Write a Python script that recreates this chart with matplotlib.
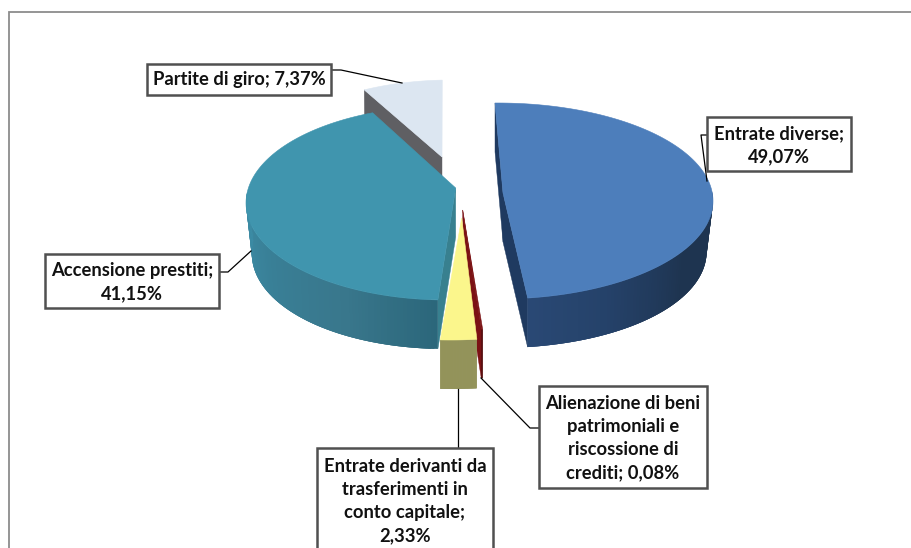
import numpy as np
import matplotlib
matplotlib.use("Agg")
import matplotlib.pyplot as plt
from matplotlib.patches import Rectangle

plt.rcParams['font.family'] = ['Lato', 'DejaVu Sans']

categories = ["Entrate diverse", "Alienazione di beni patrimoniali e riscossione di crediti",
              "Entrate derivanti da trasferimenti in conto capitale", "Accensione prestiti", "Partite di giro"]
values = [49.07, 0.08, 2.33, 41.15, 7.37]
value_labels = ["49,07%", "0,08%", "2,33%", "41,15%", "7,37%"]
label_texts = ["Entrate diverse;\n49,07%",
               "Alienazione di beni\npatrimoniali e\nriscossione di\ncrediti; 0,08%",
               "Entrate derivanti da\ntrasferimenti in\nconto capitale;\n2,33%",
               "Accensione prestiti;\n41,15%",
               "Partite di giro; 7,37%"]
START_ANGLE = -3.0
DEPTH = 49

# geometry per slice (pixel space of the view): ellipse centre/axes, apex, rim warp
views = [
    dict(c=(498, 201), a=215, b=98, apex=(503, 193), warp=(2.2, -1.6), face="#4D7EBB",
         cut="#1F3A60", front=["#2B4B78", "#25426A", "#1E3450", "#1E3450"], cuts=("start", "end")),
    dict(c=(455, 200), a=250, b=130, apex=(462.7, 210), warp=(0, 0), face="#7B1214",
         cut="#7B1214", front=["#5E0E10", "#5E0E10"], cuts=("end",)),
    dict(c=(450.5, 210), a=250, b=130, apex=(461.7, 218), warp=(0, 0), face="#FBF68C",
         cut="#B5B36A", front=["#93935A", "#9C9C62"], cuts=()),
    dict(c=(446, 203), a=200, b=97, apex=(455.7, 188), warp=(0, 8), face="#4095AE",
         cut="#38808F", front=["#2A6579", "#39778C", "#397F96", "#3C8BA4"], cuts=("start",)),
    dict(c=(451.5, 156), a=177, b=76, apex=(442, 157), warp=(0, 0), face="#DCE6F1",
         cut="#5F5F63", front=["#5F5F63", "#5F5F63"], cuts=("start",)),
]
draw_order = [4, 3, 1, 2, 0]

boxes = {0: (707, 117, 851, 171), 1: (539, 386, 707, 488), 2: (317, 448, 493, 560),
         3: (45, 254, 219, 308), 4: (147, 64, 331, 95)}
text_y = {0: 145, 1: 438, 2: 501, 3: 282, 4: 80}
leaders = {0: ([707, 701, 707], [135, 135, 181]), 1: ([539, 530, 481], [428, 428, 378]),
           2: ([458, 458], [448, 389]), 3: ([219, 228, 251], [272, 272, 251]),
           4: ([331, 341, 402], [70, 70, 83])}

fig = plt.figure(figsize=(9.12, 5.48), dpi=100)
ax = fig.add_axes([0, 0, 1, 1])
ax.set_xlim(0, 912)
ax.set_ylim(548, 0)
ax.axis("off")

ax.plot([9.5, 9.5, 912], [548, 12, 12], color="#8C8C8C", lw=1.3, solid_joinstyle="miter")

edges = START_ANGLE + np.concatenate([[0], np.cumsum(values)]) / sum(values) * 360


def rim(v, t, scale=1.0, dy=0.0):
    r = np.radians(t)
    return v["c"][0] + scale * v["a"] * np.sin(r), v["c"][1] - v["b"] * np.cos(r) + dy


def lerp_color(cols, f):
    rgb = np.array([matplotlib.colors.to_rgb(c) for c in cols])
    p = f * (len(cols) - 1)
    i = min(int(p), len(cols) - 2)
    return tuple(rgb[i] + (rgb[i + 1] - rgb[i]) * (p - i))


def draw_slice(i):
    v = views[i]
    t1 = edges[i] + v["warp"][0]
    t2 = edges[i + 1] + v["warp"][1]
    ts = np.linspace(t1, t2, 160)
    ax_, ay_ = v["apex"]
    # cut walls
    for side in v["cuts"]:
        t = t1 if side == "start" else t2
        x, y = rim(v, t)
        xb, yb = rim(v, t, 0.995, DEPTH)
        ax.fill([ax_, x, xb, ax_], [ay_, y, yb, ay_ + DEPTH], color=v["cut"], lw=0.3)
    # outer wall (only the part turned towards the viewer); quads overlap to hide seams
    vis = ts[np.cos(np.radians(ts)) < 0.12]
    for j in range(len(vis) - 1):
        a = vis[j]
        b = vis[min(j + 3, len(vis) - 1)]
        f = np.clip(abs(((vis[j] + vis[j + 1]) / 2 - 180)) / 90, 0, 1)
        seg = np.linspace(a, b, 5)
        xt, yt = rim(v, seg)
        k = 1 - 0.03 * f
        xl, yl = rim(v, seg[::-1], k, DEPTH)
        ax.fill(np.r_[xt, xl], np.r_[yt, yl], color=lerp_color(v["front"], f), lw=0)
    # top face
    xs, ys = rim(v, ts)
    ax.fill(np.r_[ax_, xs], np.r_[ay_, ys], color=v["face"], lw=0.4)


for z, i in enumerate(draw_order):
    before = len(ax.patches)
    draw_slice(i)
    for p in ax.patches[before:]:
        p.set_zorder(2 + z)

for i in range(len(values)):
    lx, ly = leaders[i]
    ax.plot(lx, ly, color="black", lw=0.9, zorder=10)
    x0, y0, x1, y1 = boxes[i]
    ax.add_patch(Rectangle((x0, y0), x1 - x0, y1 - y0, fc="white", ec="#505050", lw=1.8, zorder=11))
    ax.text((x0 + x1) / 2, text_y[i], label_texts[i], ha="center", va="center", ma="center",
            fontsize=13.2, fontweight="bold", color="#111111", linespacing=1.45, zorder=12)

fig.savefig("out.png", dpi=100)
